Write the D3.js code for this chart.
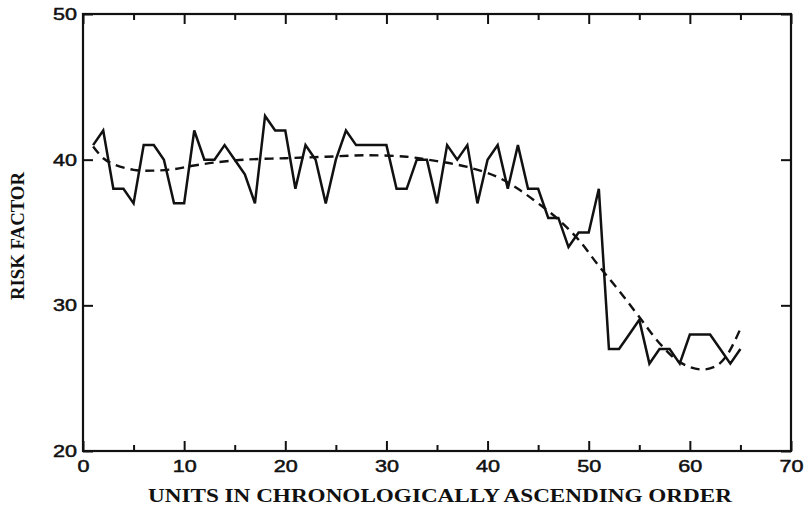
<!DOCTYPE html>
<html lang="en">
<head>
    <meta charset="UTF-8" />
    <title>Risk factor by unit</title>
    <script src="https://d3js.org/d3.v7.min.js"></script>
    <style>
        body {
            margin: 0;
            background: #fff;
        }

        .tick-label {
            font-family: "Liberation Sans", Arial, sans-serif;
            font-size: 17px;
            fill: #111;
            stroke: #111;
            stroke-width: 0.5px;
        }

        .axis-title {
            font-family: "Liberation Serif", "Times New Roman", serif;
            font-weight: bold;
            fill: #111;
        }
    </style>
</head>
<body>
    <svg id="chart" width="809" height="515"></svg>
    <script>
        // Observed risk factor, one value per unit (1..65)
        var units = [1, 2, 3, 4, 5, 6, 7, 8, 9, 10, 11, 12, 13, 14, 15, 16, 17, 18, 19, 20,
            21, 22, 23, 24, 25, 26, 27, 28, 29, 30, 31, 32, 33, 34, 35, 36, 37, 38, 39, 40,
            41, 42, 43, 44, 45, 46, 47, 48, 49, 50, 51, 52, 53, 54, 55, 56, 57, 58, 59, 60,
            61, 62, 63, 64, 65];
        var riskValues = [41, 42, 38, 38, 37, 41, 41, 40, 37, 37, 42, 40, 40, 41, 40, 39, 37, 43, 42, 42,
            38, 41, 40, 37, 40, 42, 41, 41, 41, 41, 38, 38, 40, 40, 37, 41, 40, 41, 37, 40,
            41, 38, 41, 38, 38, 36, 36, 34, 35, 35, 38, 27, 27, 28, 29, 26, 27, 27, 26, 28,
            28, 28, 27, 26, 27];

        // Fitted trend (dashed)
        var trendUnits = [1, 2, 3, 5, 7, 9, 11, 13, 16, 20, 24, 28, 32, 35, 38, 41, 43, 45, 47, 49,
            51, 53, 55, 57, 59, 61, 62.5, 63.6, 65];
        var trendValues = [40.9, 40.1, 39.7, 39.3, 39.25, 39.35, 39.6, 39.8, 40.0, 40.1, 40.2, 40.3, 40.2, 39.9, 39.5, 38.8,
            38.0, 37.0, 35.9, 34.5, 32.7, 31.0, 29.2, 27.4, 26.1, 25.6, 25.8, 26.5, 28.4];

        var xMajorTicks = [0, 10, 20, 30, 40, 50, 60, 70];
        var xMinorTicks = [5, 15, 25, 35, 45, 55, 65];
        var yTicks = [20, 30, 40, 50];

        // plot box edges
        var plotLeft = 83, plotRight = 791, plotTop = 14, plotBottom = 451;

        var svg = d3.select("#chart");

        var x = d3.scaleLinear().domain([0, 70]).range([plotLeft, plotRight]);
        var y = d3.scaleLinear().domain([20, 50]).range([plotBottom, plotTop]);

        // frame
        svg.append("rect")
            .attr("x", plotLeft)
            .attr("y", plotTop)
            .attr("width", plotRight - plotLeft)
            .attr("height", plotBottom - plotTop)
            .attr("fill", "none")
            .attr("stroke", "#111")
            .attr("stroke-width", 2.2);

        // axes, ticks pointing inward
        function styleAxis(g, showLabels) {
            g.select(".domain").remove();
            g.selectAll(".tick line").attr("stroke", "#111").attr("stroke-width", 2);
            if (showLabels) {
                g.selectAll(".tick text")
                    .attr("class", "tick-label")
                    .attr("font-family", null)
                    .attr("font-size", null)
                    .attr("fill", null)
                    .attr("textLength", function (d) { return String(d).length * 12; })
                    .attr("lengthAdjust", "spacingAndGlyphs");
            } else {
                g.selectAll(".tick text").remove();
            }
        }

        svg.append("g")
            .attr("transform", "translate(0," + plotBottom + ")")
            .call(d3.axisBottom(x).tickValues(xMajorTicks).tickSizeInner(-10).tickSizeOuter(0).tickPadding(9))
            .call(g => styleAxis(g, true));

        svg.append("g")
            .attr("transform", "translate(0," + plotBottom + ")")
            .call(d3.axisBottom(x).tickValues(xMinorTicks).tickSizeInner(-6).tickSizeOuter(0))
            .call(g => styleAxis(g, false));

        svg.append("g")
            .attr("transform", "translate(0," + plotTop + ")")
            .call(d3.axisTop(x).tickValues(xMajorTicks).tickSizeInner(-10).tickSizeOuter(0))
            .call(g => styleAxis(g, false));

        svg.append("g")
            .attr("transform", "translate(0," + plotTop + ")")
            .call(d3.axisTop(x).tickValues(xMinorTicks).tickSizeInner(-6).tickSizeOuter(0))
            .call(g => styleAxis(g, false));

        svg.append("g")
            .attr("transform", "translate(" + plotLeft + ",0)")
            .call(d3.axisLeft(y).tickValues(yTicks).tickSizeInner(-10).tickSizeOuter(0).tickPadding(6))
            .call(g => styleAxis(g, true));

        svg.append("g")
            .attr("transform", "translate(" + plotRight + ",0)")
            .call(d3.axisRight(y).tickValues(yTicks).tickSizeInner(-10).tickSizeOuter(0))
            .call(g => styleAxis(g, false));

        // observed series
        var obs = units.map((u, i) => [u, riskValues[i]]);
        svg.append("path")
            .datum(obs)
            .attr("fill", "none")
            .attr("stroke", "#111")
            .attr("stroke-width", 2.5)
            .attr("stroke-linejoin", "miter")
            .attr("d", d3.line().x(d => x(d[0])).y(d => y(d[1])));

        // trend
        var trend = trendUnits.map((u, i) => [u, trendValues[i]]);
        svg.append("path")
            .datum(trend)
            .attr("fill", "none")
            .attr("stroke", "#111")
            .attr("stroke-width", 2.4)
            .attr("stroke-dasharray", "9,6")
            .attr("d", d3.line().curve(d3.curveCatmullRom).x(d => x(d[0])).y(d => y(d[1])));

        // axis titles
        svg.append("text")
            .attr("class", "axis-title")
            .attr("x", (plotLeft + plotRight) / 2 + 3)
            .attr("y", 502)
            .attr("text-anchor", "middle")
            .attr("font-size", 18)
            .attr("textLength", 584)
            .attr("lengthAdjust", "spacingAndGlyphs")
            .text("UNITS IN CHRONOLOGICALLY ASCENDING ORDER");

        svg.append("text")
            .attr("class", "axis-title")
            .attr("transform", "translate(24,236) rotate(-90)")
            .attr("text-anchor", "middle")
            .attr("font-size", 19)
            .attr("textLength", 128)
            .attr("lengthAdjust", "spacingAndGlyphs")
            .text("RISK FACTOR");
    </script>
</body>
</html>
